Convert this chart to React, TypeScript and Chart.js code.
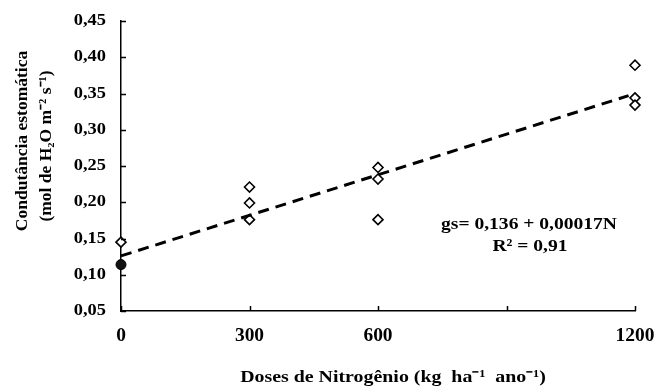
import React, { useEffect, useRef } from "react";
import { Chart, registerables } from "chart.js";

Chart.register(...registerables);

// ---- data ----
const doseOpen = [0, 300, 300, 300, 600, 600, 600, 1200, 1200, 1200];
const gsOpen = [0.145, 0.221, 0.199, 0.176, 0.248, 0.232, 0.176, 0.389, 0.344, 0.334];
const doseFilled = [0];
const gsFilled = [0.114];
const trendDose = [0, 1185];
const trendGs = [0.126, 0.347];
const xTickValues = [0, 300, 600, 900, 1200];
const xTickLabels = ["0", "300", "600", "", "1200"];
const yTickValues = [0.05, 0.1, 0.15, 0.2, 0.25, 0.3, 0.35, 0.4, 0.45];
const yTitleLines = ["Condutância estomática", "(mol de H₂O m⁻² s⁻¹)"];
const xTitle = "Doses de Nitrogênio (kg  ha⁻¹  ano⁻¹)";
const eqLines = ["gs= 0,136 + 0,00017N", "R² = 0,91"];

const FONT = "'Liberation Serif', 'Times New Roman', serif";

function stretchedText(ctx: any, text: string, x: number, y: number, sx: number, align: string) {
  ctx.save();
  ctx.translate(x, y);
  ctx.scale(sx, 1);
  ctx.textAlign = align;
  ctx.fillText(text, 0, 0);
  ctx.restore();
}

const decorPlugin = {
  id: "decor",
  afterDraw(chart: any) {
    const ctx = chart.ctx;
    const xs = chart.scales.x;
    const ys = chart.scales.y;
    const area = chart.chartArea;
    ctx.save();
    // inside tick marks
    ctx.strokeStyle = "#000";
    ctx.lineWidth = 1.5;
    ctx.beginPath();
    yTickValues.forEach((v) => {
      const py = Math.round(ys.getPixelForValue(v)) + 0.5;
      ctx.moveTo(area.left, py);
      ctx.lineTo(area.left + 5, py);
    });
    xTickValues.forEach((v) => {
      const px = Math.round(xs.getPixelForValue(v)) + 0.5;
      ctx.moveTo(px, area.bottom);
      ctx.lineTo(px, area.bottom - 5);
    });
    ctx.stroke();

    ctx.fillStyle = "#000";
    ctx.textBaseline = "middle";

    // y tick labels
    ctx.font = `bold 16px ${FONT}`;
    yTickValues.forEach((v) => {
      const py = ys.getPixelForValue(v);
      stretchedText(ctx, v.toFixed(2).replace(".", ","), area.left - 15, py, 1.15, "right");
    });
    // x tick labels
    ctx.font = `bold 18px ${FONT}`;
    xTickValues.forEach((v, i) => {
      if (!xTickLabels[i]) return;
      const px = xs.getPixelForValue(v);
      stretchedText(ctx, xTickLabels[i], px, 336, 1.08, "center");
    });

    // y title (rotated)
    ctx.font = `bold 17.5px ${FONT}`;
    ctx.textAlign = "center";
    ctx.save();
    ctx.translate(22, 141);
    ctx.rotate(-Math.PI / 2);
    ctx.fillText(yTitleLines[0], 0, 0);
    ctx.restore();
    ctx.save();
    ctx.translate(46, 146);
    ctx.rotate(-Math.PI / 2);
    ctx.fillText(yTitleLines[1], 0, 0);
    ctx.restore();

    // x title
    ctx.font = `bold 17px ${FONT}`;
    stretchedText(ctx, xTitle, 393, 378, 1.17, "center");

    // equation
    ctx.font = `bold 17px ${FONT}`;
    stretchedText(ctx, eqLines[0], 529, 225, 1.15, "center");
    stretchedText(ctx, eqLines[1], 530, 247, 1.15, "center");
    ctx.restore();
  },
};

export default function App() {
  const ref = useRef<HTMLCanvasElement | null>(null);
  useEffect(() => {
    if (!ref.current) return;
    const chart = new Chart(ref.current, {
      type: "scatter",
      data: {
        datasets: [
          {
            type: "line",
            data: trendDose.map((d, i) => ({ x: d, y: trendGs[i] })),
            borderColor: "#000",
            borderWidth: 3,
            borderDash: [11, 7],
            pointRadius: 0,
            fill: false,
            clip: false,
          } as any,
          {
            data: doseOpen.map((d, i) => ({ x: d, y: gsOpen[i] })),
            pointStyle: "rectRot",
            pointRadius: 5,
            borderColor: "#000",
            backgroundColor: "#fff",
            borderWidth: 1.6,
            clip: false,
          },
          {
            data: doseFilled.map((d, i) => ({ x: d, y: gsFilled[i] })),
            pointStyle: "circle",
            pointRadius: 5,
            borderColor: "#000",
            backgroundColor: "#111",
            borderWidth: 1,
            clip: false,
          },
        ],
      },
      options: {
        animation: false,
        responsive: false,
        layout: { padding: { top: 21, right: 21, left: 0, bottom: 0 } },
        plugins: { legend: { display: false }, tooltip: { enabled: false } },
        scales: {
          x: {
            type: "linear",
            min: 0,
            max: 1200,
            afterFit: (s: any) => {
              s.height = 81;
              s.paddingLeft = 0;
              s.paddingRight = 0;
            },
            ticks: { display: false },
            grid: { display: false, drawTicks: false },
            border: { display: true, color: "#000", width: 1.5 },
          },
          y: {
            type: "linear",
            min: 0.05,
            max: 0.45,
            afterFit: (s: any) => {
              s.width = 121;
              s.paddingTop = 0;
              s.paddingBottom = 0;
            },
            ticks: { display: false },
            grid: { display: false, drawTicks: false },
            border: { display: true, color: "#000", width: 1.5 },
          },
        },
      },
      plugins: [decorPlugin],
    });
    return () => chart.destroy();
  }, []);
  return (
    <div style={{ position: "fixed", left: 0, top: 0, width: 656, height: 392, background: "#fff" }}>
      <canvas ref={ref} width={656} height={392} />
    </div>
  );
}
